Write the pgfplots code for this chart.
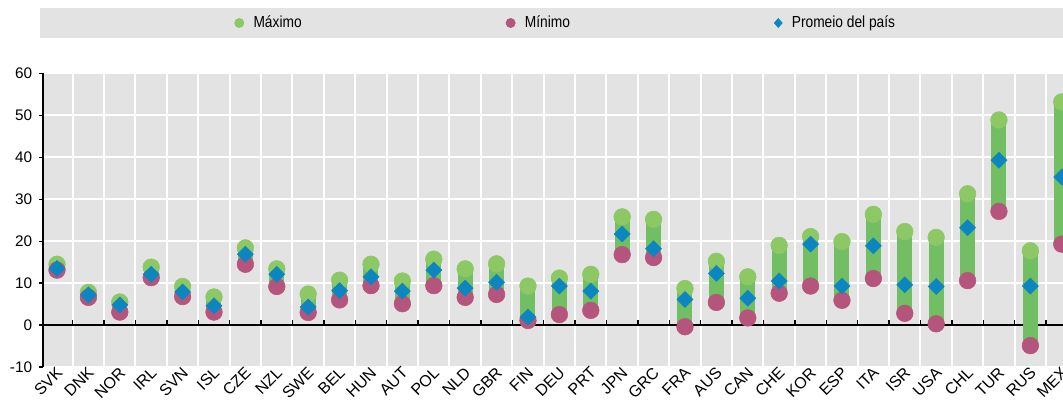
\documentclass[border=0pt]{standalone}
\usepackage{fontspec}
\setmainfont{Liberation Sans}
\newfontfamily\narrowfont{Liberation Sans}[FakeStretch=0.86]
\usepackage{pgfplots}
\usepackage{pgfplotstable}
\pgfplotsset{compat=1.18}

\definecolor{bggray}{HTML}{E2E3E2}
\definecolor{leggray}{HTML}{E3E3E3}
\definecolor{barc}{HTML}{72BF63}
\definecolor{maxc}{HTML}{8CC864}
\definecolor{minc}{HTML}{B5557D}
\definecolor{avgc}{HTML}{0B86C1}

% max / min / country average
\pgfplotstableread{
cat max min avg
SVK 14.5 13.1 13.5
DNK 7.8 6.6 7.2
NOR 5.5 3.1 4.8
IRL 13.8 11.3 12.1
SVN 9.2 6.8 7.9
ISL 6.7 3.1 4.6
CZE 18.4 14.5 16.9
NZL 13.4 9.2 12.1
SWE 7.4 3.0 4.3
BEL 10.7 6.0 8.2
HUN 14.5 9.4 11.5
AUT 10.5 5.1 8.1
POL 15.7 9.4 13.1
NLD 13.4 6.6 8.8
GBR 14.6 7.3 10.2
FIN 9.3 1.1 1.9
DEU 11.2 2.5 9.3
PRT 12.1 3.5 8.1
JPN 25.8 16.8 21.7
GRC 25.2 16.1 18.2
FRA 8.7 -0.4 6.1
AUS 15.2 5.4 12.3
CAN 11.5 1.7 6.4
CHE 19.0 7.6 10.5
KOR 21.1 9.3 19.3
ESP 19.9 5.9 9.3
ITA 26.4 11.1 18.9
ISR 22.3 2.8 9.6
USA 20.9 0.3 9.2
CHL 31.3 10.6 23.2
TUR 48.9 27.1 39.3
RUS 17.7 -4.9 9.3
MEX 53.2 19.3 35.3
}\data

\begin{document}
\begin{tikzpicture}
\fill[leggray] (-2.25pt,246.75pt) rectangle (765pt,269.25pt);
\begin{axis}[
  at={(0,0)}, anchor=south west,
  scale only axis, width=765pt, height=220.2pt,
  xmin=-0.446, xmax=32.04, ymin=-10, ymax=60,
  axis lines*=left,
  x axis line style={draw=none},
  y axis line style={black, line width=1.5pt},
  axis background/.style={fill=bggray},
  xtick={0,...,32}, xticklabels from table={\data}{cat},
  minor xtick={0.5,1.5,...,31.5},
  ytick={-10,0,...,60},
  xminorgrids, ymajorgrids,
  major grid style={white, line width=1.5pt},
  minor grid style={white, line width=1.5pt},
  extra y ticks={0}, extra y tick labels={},
  extra y tick style={grid=major, major grid style={black, line width=1.5pt}},
  tick align=outside, major tick length=3pt, minor tick length=0pt,
  xtick style={draw=none},
  ytick style={black, line width=1pt},
  /pgf/number format/assume math mode=true,
  yticklabel style={font=\fontsize{11.5}{13}\selectfont, inner sep=0pt, xshift=-5pt},
  x tick label style={font=\fontsize{12}{13}\selectfont, rotate=45, anchor=north east,
    inner sep=0pt, xshift=2pt, yshift=3.5pt},
  legend columns=3,
  legend style={draw=none, fill=none, inner sep=0pt,
    at={(axis description cs:0.1873,1.1717)}, anchor=west,
    font=\narrowfont\fontsize{12}{14}\selectfont,
    /tikz/every odd column/.append style={column sep=5pt},
    /tikz/every even column/.append style={column sep=151pt}},
]
\addlegendimage{legend image code/.code={\fill[maxc] (0pt,0pt) circle (3.5pt);}}
\addlegendentry{Máximo}
\addlegendimage{legend image code/.code={\fill[minc] (0pt,0pt) circle (3.5pt);}}
\addlegendentry{Mínimo}
\addlegendimage{legend image code/.code={\fill[avgc] (0pt,3.4pt) -- (3pt,0pt) -- (0pt,-3.4pt) -- (-3pt,0pt) -- cycle;}}
\addlegendentry{Promeio del país}

\pgfplotsinvokeforeach{0.5,1.5,...,31.5}{\draw[black, line width=1pt] (axis cs:#1,0) -- ++(0pt,3.5pt);}

\addplot[only marks, mark=none, forget plot,
  error bars/.cd, y dir=minus, y explicit, error mark=none,
  error bar style={barc, line width=11.25pt}]
  table[x expr=\coordindex, y=max, y error minus expr=\thisrow{max}-\thisrow{min}] {\data};
\addplot[only marks, mark=*, mark size=6.25pt, color=maxc, forget plot]
  table[x expr=\coordindex, y=max] {\data};
\addplot[only marks, mark=*, mark size=6.25pt, color=minc, forget plot]
  table[x expr=\coordindex, y=min] {\data};
\addplot[only marks, mark=square*, mark size=4.25pt, mark options={rotate=45}, color=avgc, forget plot]
  table[x expr=\coordindex, y=avg] {\data};
\end{axis}
\pgfresetboundingbox
\useasboundingbox (-32.25pt,-25.5pt) rectangle (765pt,275.25pt);
\end{tikzpicture}
\end{document}
